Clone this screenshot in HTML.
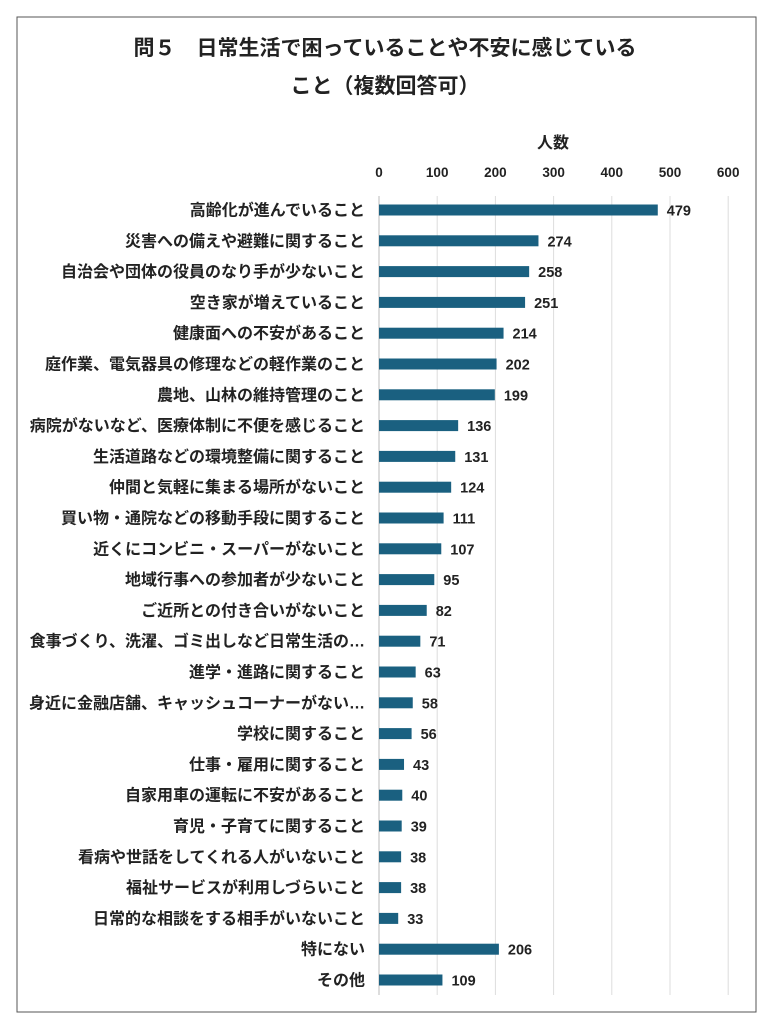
<!DOCTYPE html>
<html><head><meta charset="utf-8"><style>
body{margin:0;background:#fff;}
svg{display:block;font-family:"Liberation Sans","Noto Sans CJK JP",sans-serif;}
</style></head><body>
<svg width="772" height="1024">
<rect x="17" y="17" width="739" height="995" fill="#fff" stroke="#555" stroke-width="1"/>
<text x="385" y="55" text-anchor="middle" font-size="21" font-weight="bold" fill="#222">問５　日常生活で困っていることや不安に感じている</text>
<text x="385" y="93" text-anchor="middle" font-size="21" font-weight="bold" fill="#222">こと（複数回答可）</text>
<text x="553" y="148" text-anchor="middle" font-size="16" font-weight="bold" fill="#222">人数</text>
<g id="grid"></g><g id="ticks"></g><g id="bars"></g>
</svg>
<script>
const categories=["高齢化が進んでいること","災害への備えや避難に関すること","自治会や団体の役員のなり手が少ないこと","空き家が増えていること","健康面への不安があること","庭作業、電気器具の修理などの軽作業のこと","農地、山林の維持管理のこと","病院がないなど、医療体制に不便を感じること","生活道路などの環境整備に関すること","仲間と気軽に集まる場所がないこと","買い物・通院などの移動手段に関すること","近くにコンビニ・スーパーがないこと","地域行事への参加者が少ないこと","ご近所との付き合いがないこと","食事づくり、洗濯、ゴミ出しなど日常生活の…","進学・進路に関すること","身近に金融店舗、キャッシュコーナーがない…","学校に関すること","仕事・雇用に関すること","自家用車の運転に不安があること","育児・子育てに関すること","看病や世話をしてくれる人がいないこと","福祉サービスが利用しづらいこと","日常的な相談をする相手がいないこと","特にない","その他"];
const values=[479,274,258,251,214,202,199,136,131,124,111,107,95,82,71,63,58,56,43,40,39,38,38,33,206,109];
const ticks=[0,100,200,300,400,500,600];
const NS="http://www.w3.org/2000/svg";
const x0=379,pxPer=0.582,yTop=210,step=30.8;
const xs=v=>x0+v*pxPer, ys=i=>yTop+i*step;
function mk(t,a,p){const e=document.createElementNS(NS,t);for(const k in a)e.setAttribute(k,a[k]);p.appendChild(e);return e;}
const g=document.getElementById('grid'),tk=document.getElementById('ticks'),b=document.getElementById('bars');
ticks.forEach(t=>{
 const l=mk('line',{x1:xs(t),x2:xs(t),y1:196,y2:995,stroke:t===0?'#bbb':'#ddd','stroke-width':1},g);
 
 
 const tx=mk('text',{x:xs(t),y:177,'text-anchor':'middle','font-size':13.5,'font-weight':'bold',fill:'#222'},tk);
 tx.textContent=t;
 
 
});
categories.forEach((c,i)=>{
 const y=ys(i);
 const r=mk('rect',{x:x0,y:y-5.5,width:values[i]*pxPer,height:11,fill:'#1a6080'},b);
 
 
 const lb=mk('text',{x:365,y:y+5.5,'text-anchor':'end','font-size':16,'font-weight':'bold',fill:'#222'},b);
 lb.textContent=c;
 
 
 const vl=mk('text',{x:xs(values[i])+9,y:y+5.5,'font-size':14.5,'font-weight':'bold',fill:'#222'},b);
 vl.textContent=values[i];
 
 
});
</script>
</body></html>
